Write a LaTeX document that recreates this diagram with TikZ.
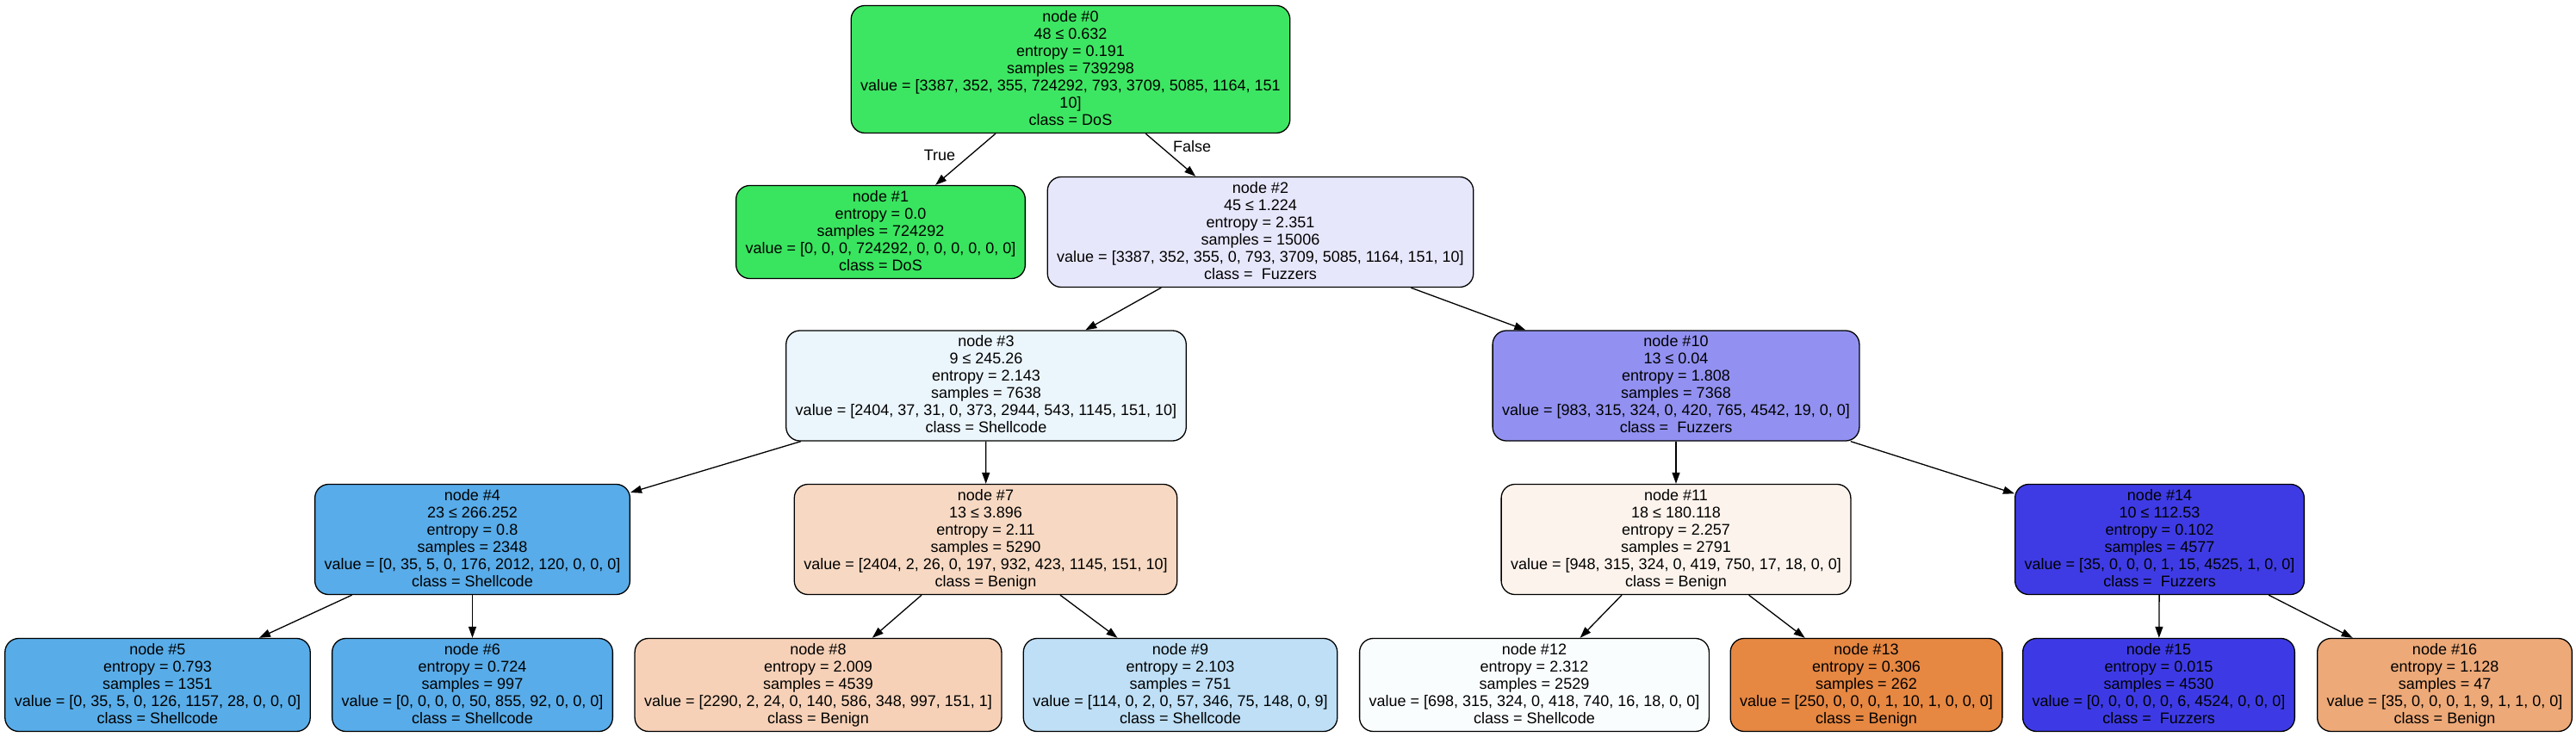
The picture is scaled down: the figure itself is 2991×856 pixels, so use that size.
\documentclass[tikz,border=0pt]{standalone}
\usepackage{fontspec}
\setmainfont{Liberation Sans}
\usetikzlibrary{arrows.meta}
\newcommand\mystrut{\rule[-4pt]{0pt}{16pt}}
\definecolor{c0}{RGB}{61,230,98}
\definecolor{c1}{RGB}{57,229,95}
\definecolor{c2}{RGB}{231,231,252}
\definecolor{c3}{RGB}{235,245,252}
\definecolor{c4}{RGB}{88,172,233}
\definecolor{c5}{RGB}{88,173,233}
\definecolor{c6}{RGB}{88,172,233}
\definecolor{c7}{RGB}{247,217,195}
\definecolor{c8}{RGB}{246,209,183}
\definecolor{c9}{RGB}{190,223,246}
\definecolor{c10}{RGB}{146,145,241}
\definecolor{c11}{RGB}{252,243,236}
\definecolor{c12}{RGB}{250,253,254}
\definecolor{c13}{RGB}{230,135,66}
\definecolor{c14}{RGB}{62,59,229}
\definecolor{c15}{RGB}{61,58,229}
\definecolor{c16}{RGB}{237,169,120}
\tikzset{
  tn/.style={draw=black, line width=1.3pt, rounded corners=16pt, align=center,
    inner xsep=11pt, inner ysep=5.5pt, font=\fontsize{18}{20}\selectfont},
  conn/.style={draw=black, line width=1.3pt, -{Triangle[length=13pt,width=9pt]}},
  lbl/.style={font=\fontsize{18}{20}\selectfont, inner sep=0pt},
}
\begin{document}
\begin{tikzpicture}[x=1pt,y=-1pt]
\fill[white] (0,0) rectangle (2991,856);
\useasboundingbox (0,0) rectangle (2991,856);

\node[tn, fill=c0] (n0) at (1243,80.5) {\mystrut node \#0\\\mystrut 48 ≤ 0.632\\\mystrut entropy = 0.191\\\mystrut samples = 739298\\\mystrut value = [3387, 352, 355, 724292, 793, 3709, 5085, 1164, 151\\\mystrut 10]\\\mystrut class = DoS};

\node[tn, fill=c1] (n1) at (1022.5,269.5) {\mystrut node \#1\\\mystrut entropy = 0.0\\\mystrut samples = 724292\\\mystrut value = [0, 0, 0, 724292, 0, 0, 0, 0, 0, 0]\\\mystrut class = DoS};

\node[tn, fill=c2] (n2) at (1463.5,269.5) {\mystrut node \#2\\\mystrut 45 ≤ 1.224\\\mystrut entropy = 2.351\\\mystrut samples = 15006\\\mystrut value = [3387, 352, 355, 0, 793, 3709, 5085, 1164, 151, 10]\\\mystrut class = \ Fuzzers};

\node[tn, fill=c3] (n3) at (1145,448) {\mystrut node \#3\\\mystrut 9 ≤ 245.26\\\mystrut entropy = 2.143\\\mystrut samples = 7638\\\mystrut value = [2404, 37, 31, 0, 373, 2944, 543, 1145, 151, 10]\\\mystrut class = Shellcode};

\node[tn, fill=c10] (n10) at (1946,448) {\mystrut node \#10\\\mystrut 13 ≤ 0.04\\\mystrut entropy = 1.808\\\mystrut samples = 7368\\\mystrut value = [983, 315, 324, 0, 420, 765, 4542, 19, 0, 0]\\\mystrut class = \ Fuzzers};

\node[tn, fill=c4] (n4) at (548.5,626.5) {\mystrut node \#4\\\mystrut 23 ≤ 266.252\\\mystrut entropy = 0.8\\\mystrut samples = 2348\\\mystrut value = [0, 35, 5, 0, 176, 2012, 120, 0, 0, 0]\\\mystrut class = Shellcode};

\node[tn, fill=c7] (n7) at (1144.5,626.5) {\mystrut node \#7\\\mystrut 13 ≤ 3.896\\\mystrut entropy = 2.11\\\mystrut samples = 5290\\\mystrut value = [2404, 2, 26, 0, 197, 932, 423, 1145, 151, 10]\\\mystrut class = Benign};

\node[tn, fill=c11] (n11) at (1946,626.5) {\mystrut node \#11\\\mystrut 18 ≤ 180.118\\\mystrut entropy = 2.257\\\mystrut samples = 2791\\\mystrut value = [948, 315, 324, 0, 419, 750, 17, 18, 0, 0]\\\mystrut class = Benign};

\node[tn, fill=c14] (n14) at (2507.5,626.5) {\mystrut node \#14\\\mystrut 10 ≤ 112.53\\\mystrut entropy = 0.102\\\mystrut samples = 4577\\\mystrut value = [35, 0, 0, 0, 1, 15, 4525, 1, 0, 0]\\\mystrut class = \ Fuzzers};

\node[tn, fill=c5] (n5) at (183,795.5) {\mystrut node \#5\\\mystrut entropy = 0.793\\\mystrut samples = 1351\\\mystrut value = [0, 35, 5, 0, 126, 1157, 28, 0, 0, 0]\\\mystrut class = Shellcode};

\node[tn, fill=c6] (n6) at (548.5,795.5) {\mystrut node \#6\\\mystrut entropy = 0.724\\\mystrut samples = 997\\\mystrut value = [0, 0, 0, 0, 50, 855, 92, 0, 0, 0]\\\mystrut class = Shellcode};

\node[tn, fill=c8] (n8) at (950,795.5) {\mystrut node \#8\\\mystrut entropy = 2.009\\\mystrut samples = 4539\\\mystrut value = [2290, 2, 24, 0, 140, 586, 348, 997, 151, 1]\\\mystrut class = Benign};

\node[tn, fill=c9] (n9) at (1370.5,795.5) {\mystrut node \#9\\\mystrut entropy = 2.103\\\mystrut samples = 751\\\mystrut value = [114, 0, 2, 0, 57, 346, 75, 148, 0, 9]\\\mystrut class = Shellcode};

\node[tn, fill=c12] (n12) at (1781.5,795.5) {\mystrut node \#12\\\mystrut entropy = 2.312\\\mystrut samples = 2529\\\mystrut value = [698, 315, 324, 0, 418, 740, 16, 18, 0, 0]\\\mystrut class = Shellcode};

\node[tn, fill=c13] (n13) at (2167,795.5) {\mystrut node \#13\\\mystrut entropy = 0.306\\\mystrut samples = 262\\\mystrut value = [250, 0, 0, 0, 1, 10, 1, 0, 0, 0]\\\mystrut class = Benign};

\node[tn, fill=c15] (n15) at (2506.5,795.5) {\mystrut node \#15\\\mystrut entropy = 0.015\\\mystrut samples = 4530\\\mystrut value = [0, 0, 0, 0, 0, 6, 4524, 0, 0, 0]\\\mystrut class = \ Fuzzers};

\node[tn, fill=c16] (n16) at (2838.5,795.5) {\mystrut node \#16\\\mystrut entropy = 1.128\\\mystrut samples = 47\\\mystrut value = [35, 0, 0, 0, 1, 9, 1, 1, 0, 0]\\\mystrut class = Benign};

\draw[conn] (n0) -- (n1);
\draw[conn] (n0) -- (n2);
\draw[conn] (n2) -- (n3);
\draw[conn] (n2) -- (n10);
\draw[conn] (n3) -- (n4);
\draw[conn] (n3) -- (n7);
\draw[conn] (n4) -- (n5);
\draw[conn] (n4) -- (n6);
\draw[conn] (n7) -- (n8);
\draw[conn] (n7) -- (n9);
\draw[conn] (n10) -- (n11);
\draw[conn] (n10) -- (n14);
\draw[conn] (n11) -- (n12);
\draw[conn] (n11) -- (n13);
\draw[conn] (n14) -- (n15);
\draw[conn] (n14) -- (n16);

\node[lbl] (ltrue) at (1091,180) {True};
\node[lbl] (lfalse) at (1384,170) {False};
\end{tikzpicture}
\end{document}
